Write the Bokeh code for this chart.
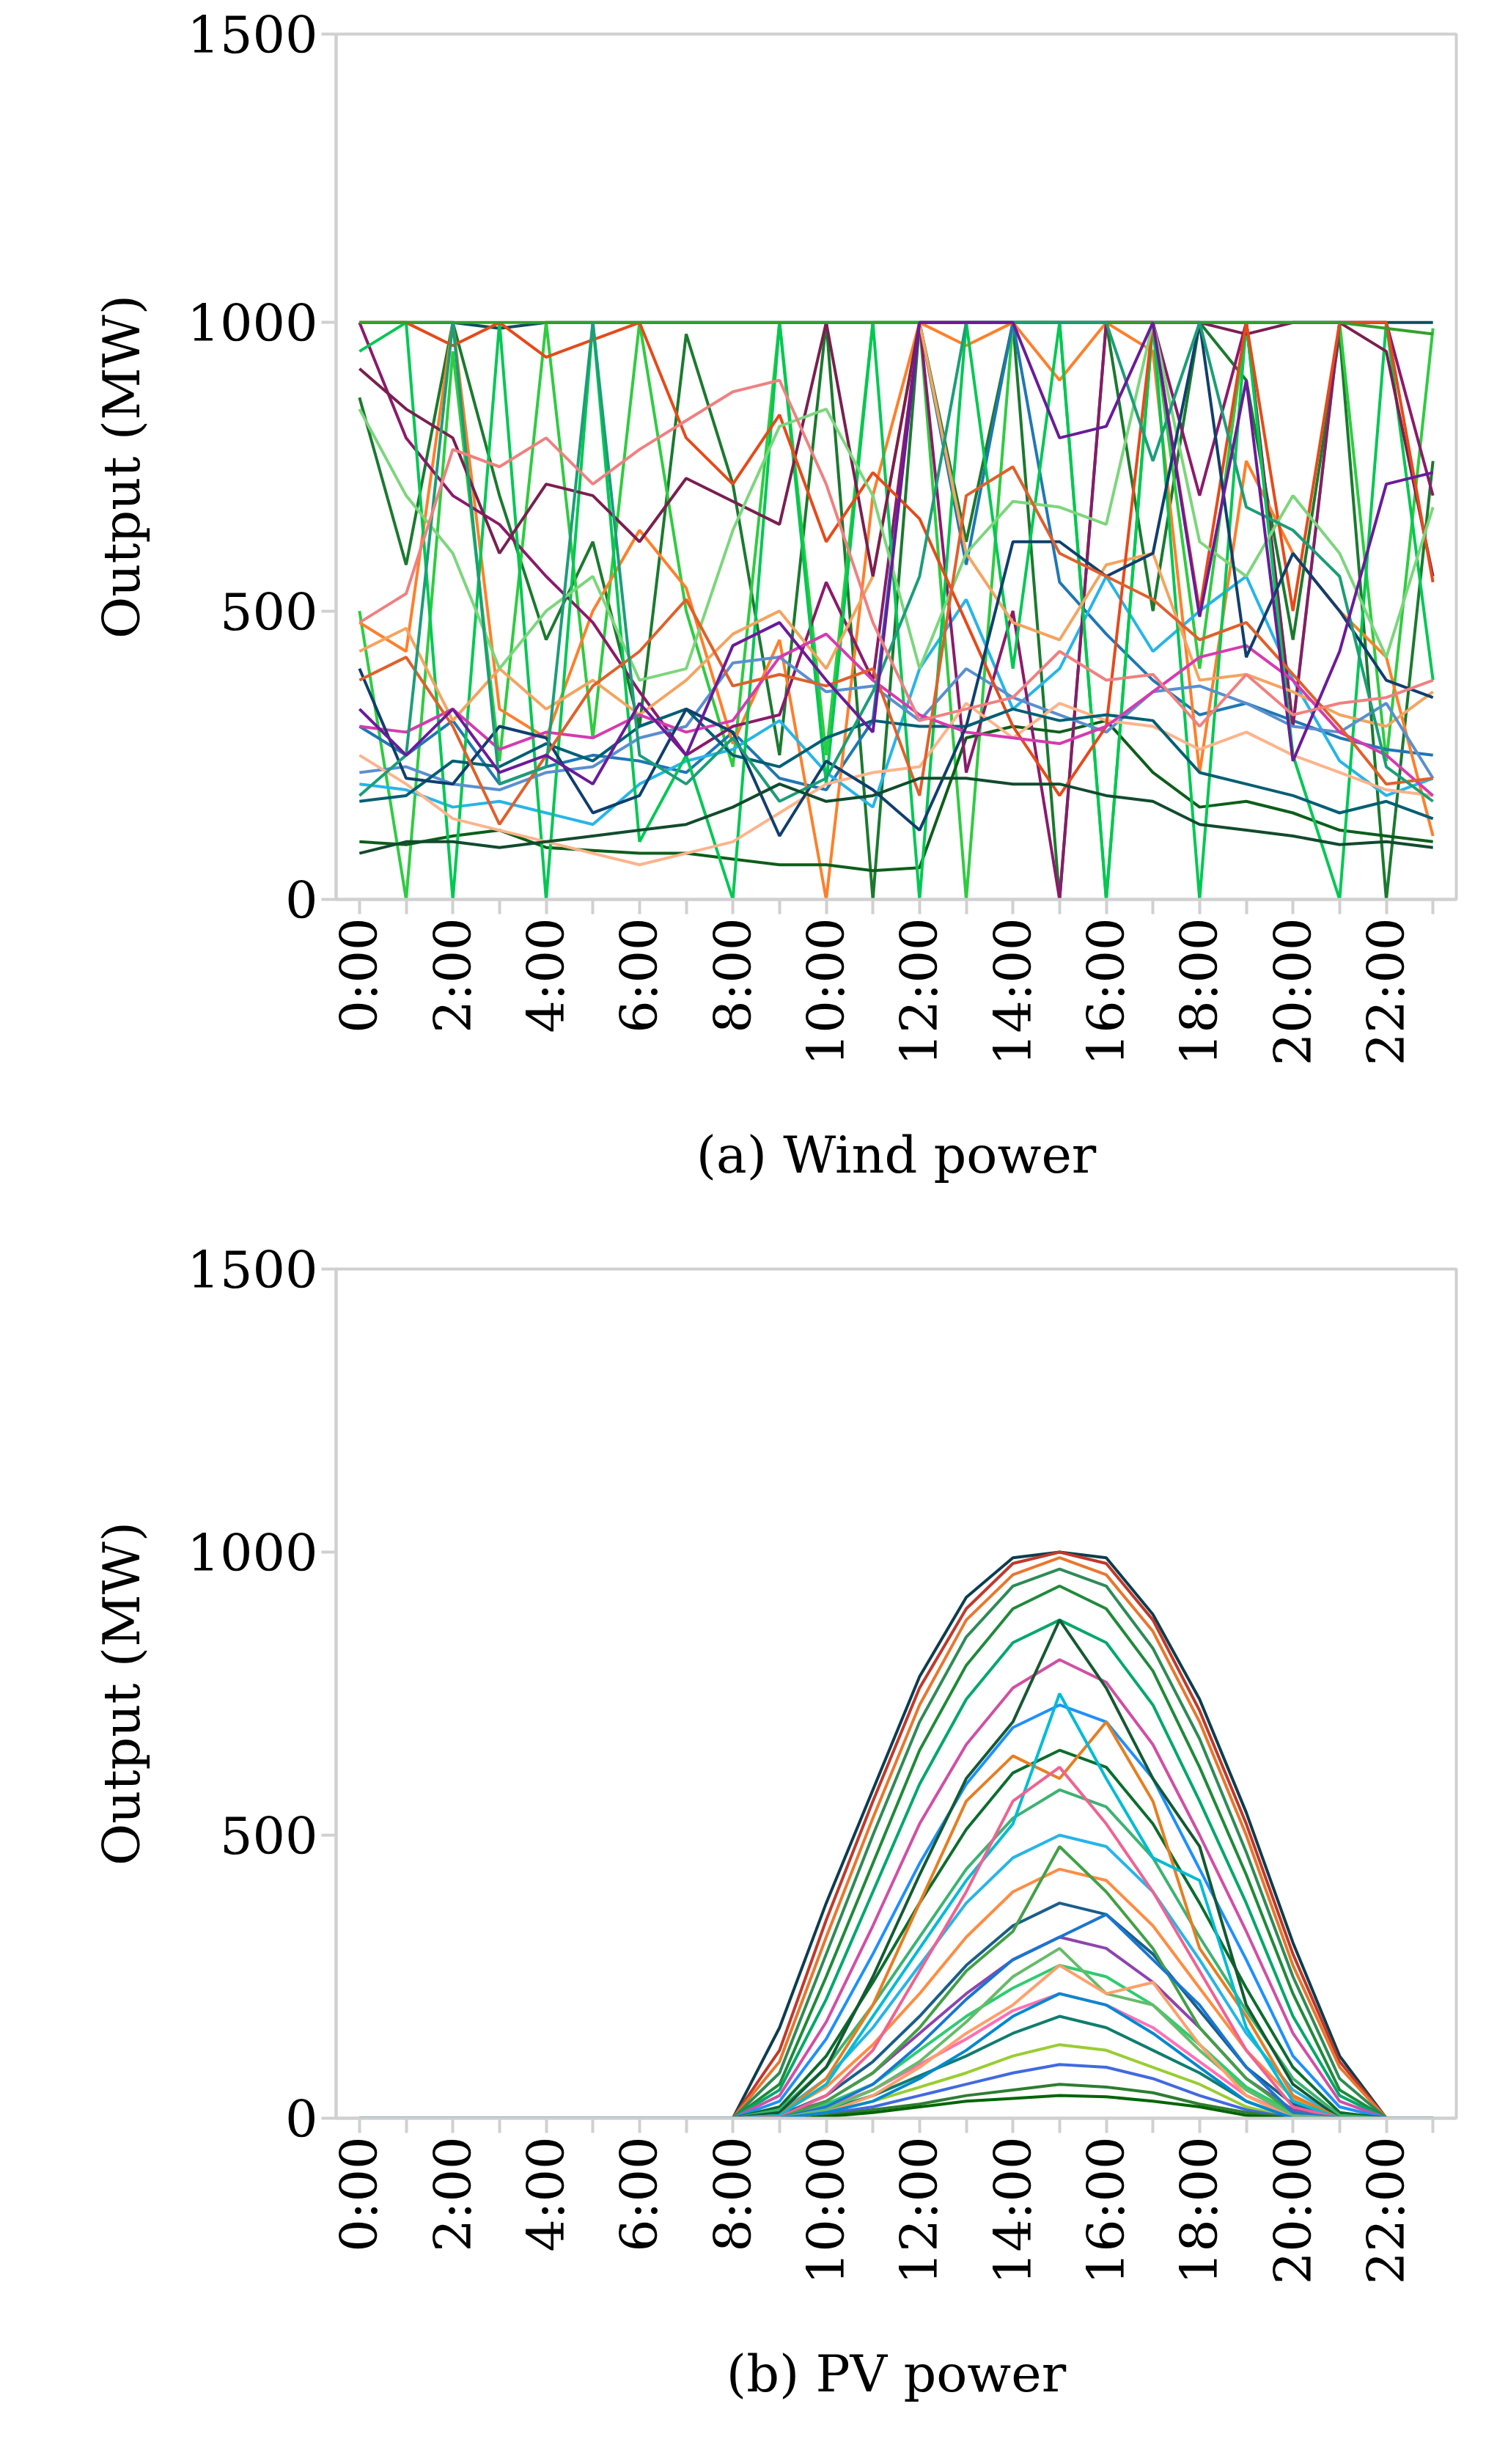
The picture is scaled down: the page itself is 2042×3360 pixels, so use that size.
from bokeh.plotting import figure
from bokeh.layouts import column
from bokeh.models import FactorRange, Range1d, Title, FixedTicker, CustomJSTickFormatter
from bokeh.embed import file_html
from bokeh.resources import INLINE

hours = [f"{h}:00" for h in range(24)]
pv_night = [0, 0, 0, 0, 0, 0, 0, 0, 0]

wind_series = [
    [1000,1000,1000,990,1000,1000,1000,1000,1000,1000,1000,1000,1000,1000,1000,1000,1000,1000,1000,1000,1000,1000,1000,1000],
    [870,580,1000,700,450,620,300,980,720,250,1000,0,1000,620,1000,0,1000,500,1000,900,450,980,0,760],
    [500,0,950,240,1000,280,1000,500,230,1000,250,1000,1000,0,1000,1000,0,1000,400,1000,300,1000,240,990],
    [300,250,310,200,230,250,240,220,290,210,190,310,1000,580,1000,550,460,380,320,340,310,280,260,250],
    [480,430,1000,330,280,500,640,540,270,450,0,700,1000,960,1000,900,1000,950,220,760,600,500,420,110],
    [200,190,160,170,150,130,200,240,260,310,220,160,400,520,330,400,560,430,500,560,380,240,180,210],
    [100,95,110,120,90,85,80,80,70,60,60,50,55,280,300,290,310,220,160,170,150,120,110,100],
    [1000,800,700,650,560,480,360,250,300,320,550,380,1000,220,500,0,1000,1000,700,1000,300,1000,1000,700],
    [950,1000,0,1000,0,1000,100,250,0,1000,200,1000,0,1000,400,1000,0,1000,0,1000,250,0,1000,380],
    [430,470,310,400,330,380,320,380,460,500,400,560,1000,600,480,450,580,600,380,390,360,320,300,360],
    [220,230,200,190,220,230,280,300,410,420,360,370,310,400,350,320,290,360,370,340,300,290,340,210],
    [250,200,140,120,100,80,60,80,100,150,200,220,230,340,280,340,310,300,260,290,250,220,190,180],
    [920,850,800,600,720,700,620,730,690,650,1000,560,1000,1000,1000,1000,1000,1000,1000,980,1000,1000,950,560],
    [1000,1000,960,1000,940,970,1000,800,720,840,620,740,660,480,300,180,300,1000,500,1000,500,1000,1000,550],
    [170,180,240,230,270,240,300,330,250,230,280,310,300,300,330,310,320,310,220,200,180,150,170,140],
    [1000,1000,1000,1000,1000,1000,1000,1000,1000,1000,1000,1000,1000,1000,1000,1000,1000,1000,1000,1000,1000,1000,990,980],
    [300,290,330,260,290,280,320,290,310,420,460,380,320,290,280,270,300,360,420,440,380,290,250,180],
    [850,700,600,400,500,560,380,400,640,820,850,700,400,600,690,680,650,1000,620,560,700,600,420,680],
    [400,210,200,300,280,150,180,330,290,110,240,190,120,300,620,620,560,600,1000,420,600,500,380,350],
    [380,420,300,130,250,370,430,520,370,390,370,400,180,700,750,600,560,520,450,480,390,300,200,210],
    [180,250,1000,200,230,1000,250,200,280,170,210,360,560,1000,1000,1000,1000,760,1000,680,640,560,230,170],
    [330,250,330,220,250,200,340,250,440,480,380,290,1000,1000,1000,800,820,1000,490,900,240,430,720,740],
    [80,100,100,90,100,110,120,130,160,200,170,180,210,210,200,200,180,170,130,120,110,95,100,90],
    [480,530,780,750,800,720,780,830,880,900,720,480,310,330,350,430,380,390,300,390,320,340,350,380],
]
wind_colors = ["#0b4f5c", "#1a7a2e", "#2ecc40", "#1f77b4", "#ff7f2a", "#26b5e8", "#0d5e1a",
               "#8b1a6b", "#00c853", "#f4a460", "#5a8fd0", "#ffb38a", "#7a1f4f", "#e64a19",
               "#005f73", "#33a02c", "#d63ab0", "#7cd67c", "#0f3f6e", "#e0602a", "#1b9e77",
               "#6a1b9a", "#114b2e", "#f08080"]

# values from 9:00 to 23:00
pv_series = [
    [160,380,580,780,920,990,1000,990,890,740,540,310,110,0,0],
    [120,350,560,760,900,980,1000,980,880,720,520,290,100,0,0],
    [100,320,530,730,880,960,990,960,860,700,500,270,90,0,0],
    [80,290,500,700,850,940,970,940,830,670,470,250,70,0,0],
    [60,250,450,650,800,900,940,900,790,620,430,220,50,0,0],
    [50,210,400,590,740,840,880,840,730,560,380,180,40,0,0],
    [40,170,340,520,660,760,810,770,660,500,330,150,30,0,0],
    [30,140,290,450,590,690,730,700,600,440,280,110,20,0,0],
    [20,110,240,380,510,610,650,620,520,380,230,90,10,0,0],
    [15,90,200,320,440,530,580,550,460,320,190,70,5,0,0],
    [10,70,160,270,380,460,500,480,400,280,150,50,0,0,0],
    [8,55,130,220,320,400,440,420,340,230,120,35,0,0,0],
    [5,40,100,180,270,340,380,360,290,190,90,25,0,0,0],
    [5,30,80,150,220,280,320,300,240,160,70,15,0,0,0],
    [3,25,60,120,180,230,270,250,200,130,55,10,0,0,0],
    [2,20,50,95,140,190,220,200,160,100,40,5,0,0,0],
    [2,15,40,75,110,150,180,160,120,80,30,0,0,0,0],
    [1,10,30,55,80,110,130,120,90,60,20,0,0,0,0],
    [1,8,20,40,60,80,95,90,70,40,15,0,0,0,0],
    [0,5,15,25,40,50,60,55,45,25,10,0,0,0,0],
    [0,3,10,20,30,35,40,38,30,20,5,0,0,0,0],
    [10,90,250,430,600,700,880,760,600,480,200,60,0,0,0],
    [5,70,200,380,560,640,600,700,560,300,180,40,0,0,0],
    [5,60,180,300,420,520,750,600,460,420,160,30,0,0,0],
    [2,40,120,260,400,560,620,520,400,260,120,20,0,0,0],
    [0,30,80,160,260,330,480,400,300,160,70,10,0,0,0],
    [0,20,60,130,210,280,320,360,280,200,90,10,0,0,0],
    [0,15,50,100,170,250,300,220,200,120,50,5,0,0,0],
    [0,10,40,90,150,200,270,220,240,130,40,0,0,0,0],
    [0,10,30,70,120,180,220,200,150,90,30,0,0,0,0],
]
pv_colors = ["#0b3d4f", "#c0392b", "#e8772e", "#2e8b57", "#1f8a3a", "#00a86b", "#d14fa5",
             "#1e90ff", "#0b6e2e", "#3cb371", "#26b5e8", "#ff8c42", "#1a5e8a", "#8e44ad",
             "#2ecc71", "#ff6fb5", "#0f7d6f", "#9acd32", "#4169e1", "#2e7d32",
             "#006400", "#145a32", "#e67e22", "#00bcd4", "#f06292", "#43a047", "#1976d2",
             "#66bb6a", "#ff9f6b", "#0288d1"]

FONT = "DejaVu Serif"

def make_fig(caption, ys_list, colors, height, top):
    p = figure(width=2026, height=height, x_range=FactorRange(*hours), y_range=Range1d(0, 1500),
               output_backend="svg", toolbar_location=None,
               min_border_left=458, min_border_right=40, min_border_top=top, min_border_bottom=20)
    for ys, c in zip(ys_list, colors):
        p.line(hours, ys, line_color=c, line_width=4)
    p.xgrid.visible = False
    p.ygrid.visible = False
    p.outline_line_color = "#d0d0d0"
    p.outline_line_width = 4
    for ax in (p.xaxis[0], p.yaxis[0]):
        ax.axis_line_color = "#d0d0d0"
        ax.axis_line_width = 4
        ax.major_tick_line_color = "#d0d0d0"
        ax.major_tick_line_width = 4
        ax.minor_tick_line_color = None
        ax.major_label_text_font = FONT
        ax.major_label_text_font_size = "70px"
        ax.major_label_text_color = "black"
    p.yaxis.ticker = FixedTicker(ticks=[0, 500, 1000, 1500])
    p.yaxis.major_tick_out = 20
    p.yaxis.major_tick_in = 0
    p.yaxis.axis_label = "Output (MW)"
    p.yaxis.axis_label_text_font = FONT
    p.yaxis.axis_label_text_font_size = "70px"
    p.yaxis.axis_label_text_font_style = "normal"
    p.yaxis.axis_label_text_color = "black"
    p.yaxis.axis_label_standoff = 45
    p.xaxis.major_label_orientation = 1.5708
    p.xaxis.formatter = CustomJSTickFormatter(code="return (index % 2) ? '' : tick;")
    p.xaxis.major_tick_out = 20
    p.xaxis.major_tick_in = 0
    p.add_layout(Title(text=caption, align="center", text_font=FONT, text_font_size="70px",
                       text_font_style="normal", text_color="black", offset=0, standoff=150), "below")
    return p

p1 = make_fig("(a) Wind power", wind_series, wind_colors, 1690, 46)
p2 = make_fig("(b) PV power", [pv_night + s for s in pv_series], pv_colors, 1662, 40)
layout = column(p1, p2, spacing=0)
open("out.html", "w").write(file_html(layout, INLINE))
